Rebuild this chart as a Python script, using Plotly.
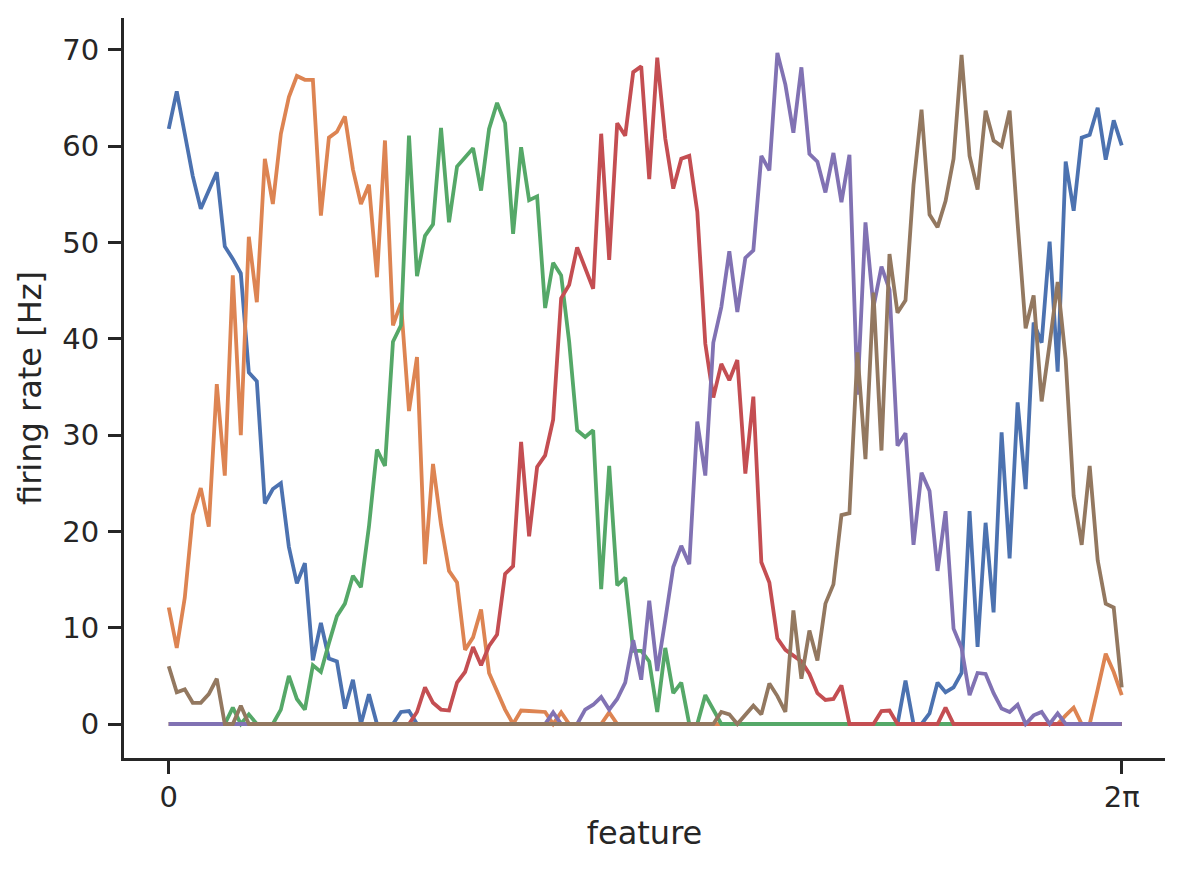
import numpy as np
import plotly.graph_objects as go

# firing rates of 6 tuned neurons, 120 samples of the feature over [0, 2pi]
n_points = 120

neuron_1 = [
    61.8, 65.7, 61.3, 56.9, 53.5, 55.3, 57.3, 49.6, 48.3, 46.8,
    36.5, 35.6, 22.9, 24.4, 25.0, 18.4, 14.6, 16.7, 6.6, 10.5,
    6.8, 6.5, 1.6, 4.6, 0, 3.1, 0, 0, 0, 1.25,
    1.35, 0, 0, 0, 0, 0, 0, 0, 0, 0,
    0, 0, 0, 0, 0, 0, 0, 0, 0, 0,
    0, 0, 0, 0, 0, 0, 0, 0, 0, 0,
    0, 0, 0, 0, 0, 0, 0, 0, 0, 0,
    0, 0, 0, 0, 0, 0, 0, 0, 0, 0,
    0, 0, 0, 0, 0, 0, 0, 0, 0, 0,
    0, 0, 4.5, 0, 0, 1.1, 4.3, 3.3, 3.8, 5.3,
    22.1, 8.0, 20.9, 11.6, 30.3, 17.2, 33.4, 24.4, 41.7, 39.6,
    50.1, 36.6, 58.4, 53.3, 60.9, 61.2, 64.0, 58.6, 62.7, 60.1,
]

neuron_2 = [
    12.1, 7.9, 13.1, 21.7, 24.5, 20.5, 35.3, 25.8, 46.6, 30.0,
    50.6, 43.8, 58.7, 54.0, 61.3, 65.1, 67.3, 66.9, 66.9, 52.8,
    60.9, 61.5, 63.1, 57.6, 54.0, 56.0, 46.4, 60.6, 41.4, 43.7,
    32.5, 38.1, 16.6, 27.0, 20.7, 15.9, 14.7, 7.7, 9.0, 11.9,
    5.3, 3.3, 1.5, 0, 1.4, 1.35, 1.3, 1.25, 0, 1.2,
    0, 0, 0, 0, 0, 1.2, 0, 0, 0, 0,
    0, 0, 0, 0, 0, 0, 0, 0, 0, 0,
    0, 0, 0, 0, 0, 0, 0, 0, 0, 0,
    0, 0, 0, 0, 0, 0, 0, 0, 0, 0,
    0, 0, 0, 0, 0, 0, 0, 0, 0, 0,
    0, 0, 0, 0, 0, 0, 0, 0, 0, 0,
    0, 0, 0.9, 1.7, 0, 0, 3.6, 7.3, 5.4, 3.0,
]

neuron_3 = [
    0, 0, 0, 0, 0, 0, 0, 0, 1.7, 0,
    1.0, 0, 0, 0, 1.5, 5.0, 2.6, 1.5, 6.1, 5.4,
    8.4, 11.2, 12.5, 15.4, 14.2, 20.5, 28.5, 26.8, 39.7, 41.4,
    61.1, 46.5, 50.7, 51.9, 61.9, 52.1, 57.9, 58.9, 59.8, 55.4,
    61.8, 64.5, 62.4, 50.9, 59.9, 54.4, 54.8, 43.2, 47.9, 46.6,
    39.7, 30.5, 29.8, 30.5, 14.0, 26.8, 14.4, 15.2, 7.6, 7.6,
    6.5, 1.25, 7.9, 3.2, 4.3, 0, 0, 3.0, 1.5, 0,
    0, 0, 0, 0, 0, 0, 0, 0, 0, 0,
    0, 0, 0, 0, 0, 0, 0, 0, 0, 0,
    0, 0, 0, 0, 0, 0, 0, 0, 0, 0,
    0, 0, 0, 0, 0, 0, 0, 0, 0, 0,
    0, 0, 0, 0, 0, 0, 0, 0, 0, 0,
]

neuron_4 = [
    0, 0, 0, 0, 0, 0, 0, 0, 0, 0,
    0, 0, 0, 0, 0, 0, 0, 0, 0, 0,
    0, 0, 0, 0, 0, 0, 0, 0, 0, 0,
    0, 1.25, 3.8, 2.2, 1.5, 1.4, 4.3, 5.4, 8.0, 6.1,
    8.1, 9.3, 15.6, 16.4, 29.3, 19.5, 26.7, 27.9, 31.6, 44.2,
    45.6, 49.5, 47.4, 45.2, 61.3, 48.2, 62.4, 61.1, 67.7, 68.3,
    56.6, 69.2, 60.8, 55.6, 58.7, 59.0, 53.2, 39.5, 33.9, 37.4,
    35.7, 37.8, 26.0, 34.0, 16.8, 14.7, 8.9, 7.7, 7.1, 6.5,
    5.2, 3.2, 2.5, 2.6, 4.0, 0, 0, 0, 0, 1.35,
    1.4, 0, 0, 0, 0, 0, 0, 1.7, 0, 0,
    0, 0, 0, 0, 0, 0, 0, 0, 0, 0,
    0, 0, 0, 0, 0, 0, 0, 0, 0, 0,
]

neuron_5 = [
    0, 0, 0, 0, 0, 0, 0, 0, 0, 0,
    0, 0, 0, 0, 0, 0, 0, 0, 0, 0,
    0, 0, 0, 0, 0, 0, 0, 0, 0, 0,
    0, 0, 0, 0, 0, 0, 0, 0, 0, 0,
    0, 0, 0, 0, 0, 0, 0, 0, 1.2, 0,
    0, 0, 1.5, 2.0, 2.8, 1.5, 2.6, 4.3, 8.7, 4.6,
    12.8, 5.5, 10.8, 16.3, 18.5, 16.6, 31.4, 25.8, 39.6, 43.3,
    49.1, 42.8, 48.4, 49.2, 59.0, 57.5, 69.7, 66.4, 61.4, 68.2,
    59.2, 58.4, 55.2, 59.3, 54.2, 59.1, 34.2, 52.1, 43.3, 47.5,
    45.1, 28.9, 30.2, 18.6, 26.1, 24.2, 15.9, 22.1, 9.9, 7.9,
    3.0, 5.3, 5.2, 3.2, 1.6, 1.25, 2.0, 0, 0.9, 1.25,
    0, 1.1, 0, 0, 0, 0, 0, 0, 0, 0,
]

neuron_6 = [
    6.0, 3.3, 3.6, 2.2, 2.2, 3.1, 4.7, 0, 0, 1.9,
    0, 0, 0, 0, 0, 0, 0, 0, 0, 0,
    0, 0, 0, 0, 0, 0, 0, 0, 0, 0,
    0, 0, 0, 0, 0, 0, 0, 0, 0, 0,
    0, 0, 0, 0, 0, 0, 0, 0, 0, 0,
    0, 0, 0, 0, 0, 0, 0, 0, 0, 0,
    0, 0, 0, 0, 0, 0, 0, 0, 0, 1.25,
    1.0, 0, 1.0, 1.9, 1.0, 4.2, 2.9, 1.25, 11.8, 4.7,
    9.7, 6.6, 12.5, 14.5, 21.7, 21.9, 38.6, 27.5, 44.8, 28.4,
    48.8, 42.7, 44.0, 56.0, 63.8, 52.9, 51.6, 54.3, 58.7, 69.5,
    59.0, 55.5, 63.7, 60.6, 60.0, 63.7, 52.0, 41.1, 44.5, 33.5,
    39.5, 45.9, 37.9, 23.7, 18.6, 26.8, 17.0, 12.5, 12.1, 3.8,
]

rates = [neuron_1, neuron_2, neuron_3, neuron_4, neuron_5, neuron_6]
colors = ["#4C72B0", "#DD8452", "#55A868", "#C44E52", "#8172B3", "#937860"]  # seaborn deep

x_ticks = [0, 2 * np.pi]
x_ticklabels = ["0", "2π"]
y_ticks = [0, 10, 20, 30, 40, 50, 60, 70]

feature = np.linspace(0, 2 * np.pi, n_points)

ink = "#262626"

fig = go.Figure()
for r, c in zip(rates, colors):
    fig.add_trace(go.Scatter(x=feature, y=r, mode="lines",
                             line=dict(color=c, width=3.8), showlegend=False))

# page body has an 8px margin, so the figure is 8px smaller than the window
fig.update_layout(
    width=1176, height=864,
    margin=dict(l=116, r=19, t=10, b=114),
    paper_bgcolor="white", plot_bgcolor="white",
    font=dict(family="DejaVu Sans", color=ink, size=29),
)
fig.update_xaxes(
    range=[-0.295, 6.5685],
    tickvals=x_ticks, ticktext=x_ticklabels,
    showline=True, linecolor=ink, linewidth=3,
    ticks="outside", ticklen=13, tickwidth=3, tickcolor=ink,
    showgrid=False, zeroline=False,
    tickfont=dict(size=29), ticklabelstandoff=-2,
    title=dict(text="feature", font=dict(size=32), standoff=9),
)
fig.update_yaxes(
    range=[-3.53, 73.32],
    tickvals=y_ticks,
    showline=True, linecolor=ink, linewidth=3,
    ticks="outside", ticklen=13, tickwidth=3, tickcolor=ink,
    showgrid=False, zeroline=False,
    tickfont=dict(size=29), ticklabelstandoff=3,
    title=dict(text="firing rate [Hz]", font=dict(size=32), standoff=12),
)

fig.write_html("out.html")
